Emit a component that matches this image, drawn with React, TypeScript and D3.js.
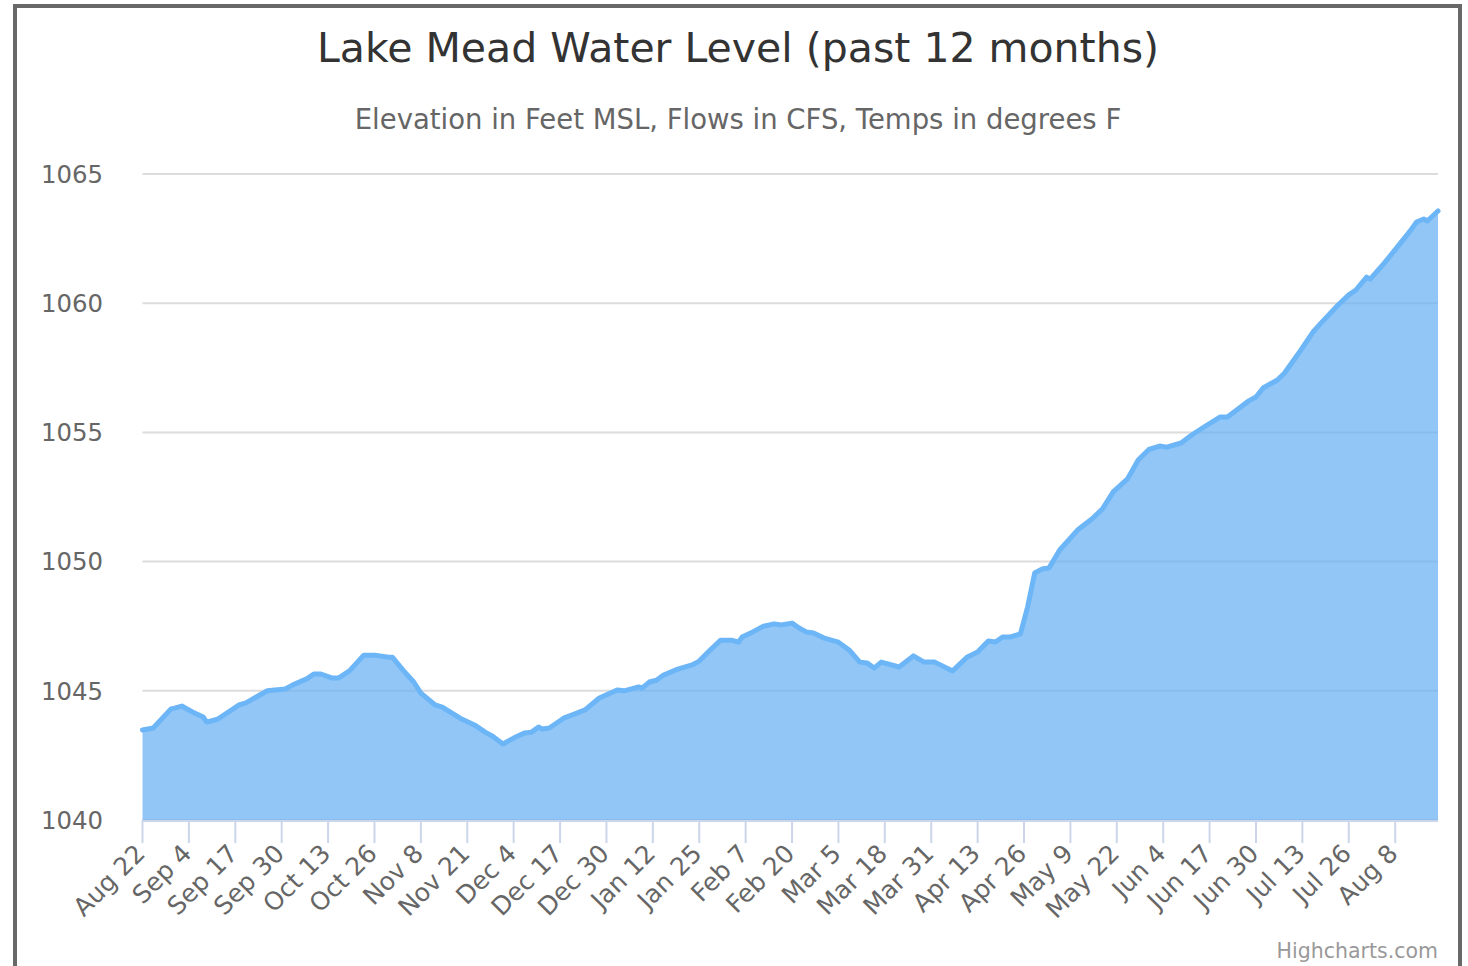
import React from 'react'
import * as d3 from 'd3'

const width = 1468
const height = 966

const plot = {
  left: 142.5,
  right: 1438,
  top: 174,
  bottom: 820,
}

const fontFamily = '"DejaVu Sans", "Lucida Grande", sans-serif'

// daily reservoir readings
const dates = [
  '2022-08-22', '2022-08-25', '2022-08-30', '2022-08-31', '2022-09-02', '2022-09-05',
  '2022-09-08', '2022-09-09', '2022-09-12', '2022-09-16', '2022-09-18', '2022-09-20',
  '2022-09-23', '2022-09-26', '2022-10-01', '2022-10-03', '2022-10-07', '2022-10-09',
  '2022-10-11', '2022-10-14', '2022-10-16', '2022-10-19', '2022-10-23', '2022-10-26',
  '2022-10-30', '2022-10-31', '2022-11-03', '2022-11-06', '2022-11-08', '2022-11-12',
  '2022-11-14', '2022-11-19', '2022-11-23', '2022-11-26', '2022-11-28', '2022-12-01',
  '2022-12-04', '2022-12-07', '2022-12-09', '2022-12-11', '2022-12-12', '2022-12-14',
  '2022-12-18', '2022-12-21', '2022-12-24', '2022-12-28', '2023-01-02', '2023-01-04',
  '2023-01-08', '2023-01-09', '2023-01-11', '2023-01-13', '2023-01-15', '2023-01-19',
  '2023-01-23', '2023-01-25', '2023-01-28', '2023-01-31', '2023-02-03', '2023-02-05',
  '2023-02-06', '2023-02-09', '2023-02-12', '2023-02-15', '2023-02-17', '2023-02-20',
  '2023-02-22', '2023-02-24', '2023-02-26', '2023-03-01', '2023-03-05', '2023-03-08',
  '2023-03-11', '2023-03-13', '2023-03-15', '2023-03-17', '2023-03-22', '2023-03-26',
  '2023-03-29', '2023-04-01', '2023-04-06', '2023-04-10', '2023-04-13', '2023-04-16',
  '2023-04-18', '2023-04-20', '2023-04-22', '2023-04-25', '2023-04-27', '2023-04-29',
  '2023-05-01', '2023-05-03', '2023-05-06', '2023-05-11', '2023-05-15', '2023-05-18',
  '2023-05-21', '2023-05-25', '2023-05-28', '2023-05-31', '2023-06-03', '2023-06-05',
  '2023-06-09', '2023-06-12', '2023-06-15', '2023-06-20', '2023-06-22', '2023-06-28',
  '2023-06-30', '2023-07-02', '2023-07-06', '2023-07-08', '2023-07-12', '2023-07-16',
  '2023-07-18', '2023-07-23', '2023-07-26', '2023-07-28', '2023-07-31', '2023-08-01',
  '2023-08-05', '2023-08-07', '2023-08-12', '2023-08-14', '2023-08-16', '2023-08-17',
  '2023-08-20',
]

const elevations = [
  1043.48, 1043.56, 1044.3, 1044.33, 1044.41, 1044.18,
  1043.99, 1043.79, 1043.9, 1044.26, 1044.45, 1044.53,
  1044.77, 1045.0, 1045.07, 1045.22, 1045.46, 1045.65,
  1045.65, 1045.5, 1045.5, 1045.77, 1046.38, 1046.38,
  1046.3, 1046.3, 1045.8, 1045.34, 1044.91, 1044.45,
  1044.37, 1043.94, 1043.68, 1043.4, 1043.25, 1042.94,
  1043.17, 1043.37, 1043.4, 1043.6, 1043.52, 1043.56,
  1043.94, 1044.1, 1044.26, 1044.72, 1045.03, 1045.0,
  1045.15, 1045.1, 1045.34, 1045.41, 1045.61, 1045.84,
  1046.0, 1046.15, 1046.57, 1046.96, 1046.96, 1046.88,
  1047.08, 1047.28, 1047.5, 1047.59, 1047.55, 1047.62,
  1047.43, 1047.28, 1047.24, 1047.04, 1046.88, 1046.58,
  1046.11, 1046.08, 1045.88, 1046.11, 1045.92, 1046.35,
  1046.11, 1046.11, 1045.77, 1046.3, 1046.5, 1046.93,
  1046.89, 1047.08, 1047.08, 1047.2, 1048.24, 1049.56,
  1049.71, 1049.75, 1050.45, 1051.22, 1051.65, 1052.04,
  1052.7, 1053.2, 1053.93, 1054.34, 1054.47, 1054.43,
  1054.59, 1054.9, 1055.17, 1055.6, 1055.6, 1056.22,
  1056.37, 1056.72, 1057.03, 1057.3, 1058.07, 1058.89,
  1059.2, 1059.93, 1060.32, 1060.51, 1061.01, 1060.93,
  1061.56, 1061.9, 1062.76, 1063.14, 1063.26, 1063.18,
  1063.57,
]

const tickDates = [
  '2022-08-22', '2022-09-04', '2022-09-17', '2022-09-30', '2022-10-13', '2022-10-26',
  '2022-11-08', '2022-11-21', '2022-12-04', '2022-12-17', '2022-12-30', '2023-01-12',
  '2023-01-25', '2023-02-07', '2023-02-20', '2023-03-05', '2023-03-18', '2023-03-31',
  '2023-04-13', '2023-04-26', '2023-05-09', '2023-05-22', '2023-06-04', '2023-06-17',
  '2023-06-30', '2023-07-13', '2023-07-26', '2023-08-08',
]

const yTicks = [1040, 1045, 1050, 1055, 1060, 1065]

const parseDate = d3.utcParse('%Y-%m-%d')
const formatTick = d3.utcFormat('%b %-d')

export default function App() {
  const data = dates.map((d, i) => ({ date: parseDate(d), value: elevations[i] }))

  const x = d3
    .scaleUtc()
    .domain(d3.extent(data, (d) => d.date))
    .range([plot.left, plot.right])

  const y = d3.scaleLinear().domain([1040, 1065]).range([plot.bottom, plot.top])

  const area = d3
    .area()
    .x((d) => x(d.date))
    .y0(y(1040))
    .y1((d) => y(d.value))

  const line = d3
    .line()
    .x((d) => x(d.date))
    .y((d) => y(d.value))

  return (
    <div style={{ position: 'absolute', left: 0, top: 0 }}>
      <svg width={width} height={height} style={{ display: 'block', fontFamily }}>
        <rect x={0} y={0} width={width} height={height} fill="#fff" />
        <rect x={15} y={6} width={1445} height={1000} fill="none" stroke="#686868" strokeWidth={4} />

        <text x={738} y={62} textAnchor="middle" fill="#333333" fontSize={41}>
          Lake Mead Water Level (past 12 months)
        </text>
        <text x={738} y={129} textAnchor="middle" fill="#666666" fontSize={27.5}>
          Elevation in Feet MSL, Flows in CFS, Temps in degrees F
        </text>

        {yTicks.map((t) => (
          <g key={'y-' + t}>
            <line x1={plot.left} x2={plot.right} y1={y(t)} y2={y(t)} stroke="#dcdcdc" strokeWidth={2} />
            <text x={103} y={y(t)} dy="0.36em" textAnchor="end" fill="#666666" fontSize={24.4}>
              {t}
            </text>
          </g>
        ))}

        <path d={area(data)} fill="#66b0f2" fillOpacity={0.72} />
        <path d={line(data)} fill="none" stroke="#6cb5f6" strokeWidth={5} strokeLinejoin="round" strokeLinecap="round" />

        <line x1={plot.left} x2={plot.right} y1={plot.bottom + 1} y2={plot.bottom + 1} stroke="#ccd6eb" strokeWidth={2} />
        {tickDates.map((t) => {
          const tx = x(parseDate(t))
          return (
            <g key={'x-' + t}>
              <line x1={tx} x2={tx} y1={plot.bottom} y2={plot.bottom + 23} stroke="#ccd6eb" strokeWidth={2} />
              <text
                transform={`translate(${tx + 4},${plot.bottom + 35}) rotate(-45)`}
                textAnchor="end"
                fill="#666666"
                fontSize={25}
              >
                {formatTick(parseDate(t))}
              </text>
            </g>
          )
        })}

        <text x={plot.right} y={958} textAnchor="end" fill="#999999" fontSize={20.5}>
          Highcharts.com
        </text>
      </svg>
    </div>
  )
}
